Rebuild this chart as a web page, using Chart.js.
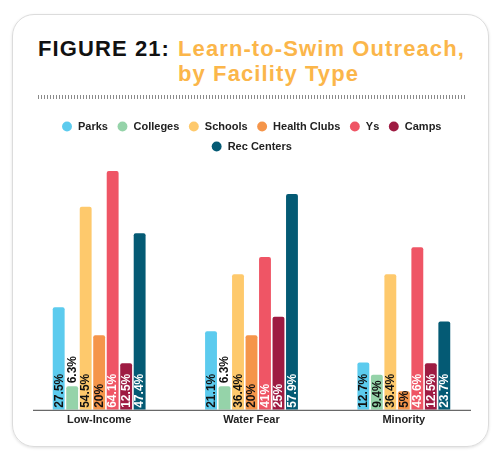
<!DOCTYPE html>
<html>
<head>
<meta charset="utf-8">
<script src="https://cdn.jsdelivr.net/npm/chart.js@4/dist/chart.umd.min.js"></script>
<style>
  html, body { margin: 0; padding: 0; background: #fff; }
  body { width: 500px; height: 456px; position: relative; overflow: hidden; font-family: "Liberation Sans", Arial, sans-serif; }
  .card {
    position: absolute; left: 12px; top: 14px; width: 475px; height: 431px;
    border: 1px solid #dcdcdc; border-radius: 22px; box-shadow: 0 1px 3px rgba(0,0,0,0.12);
  }
  .title { position: absolute; left: 38px; top: 36px; font-weight: bold; font-size: 22px; line-height: 25px; white-space: nowrap; letter-spacing: 1.1px; }
  .title .fig { color: #111; display: inline-block; vertical-align: top; }
  .title .sub { color: #fbb64a; display: inline-block; vertical-align: top; margin-left: 8px; }
  .rule {
    position: absolute; left: 38px; top: 95px; width: 428px; height: 4px;
    background: repeating-linear-gradient(90deg, #8a8a8a 0 1px, transparent 1px 3px);
  }
  canvas { position: absolute; left: 0; top: 0; }
</style>
</head>
<body>
<div class="card"></div>
<div class="title"><span class="fig">FIGURE 21:</span><span class="sub">Learn-to-Swim Outreach,<br>by Facility Type</span></div>
<div class="rule"></div>
<canvas id="chart" width="500" height="456"></canvas>
<script>
    const categories = ['Low-Income', 'Water Fear', 'Minority'];
    const facilities = ['Parks', 'Colleges', 'Schools', 'Health Clubs', 'Ys', 'Camps', 'Rec Centers'];
    const colors = ['#5ccbee', '#95d3a9', '#fec96c', '#f5954a', '#ef5565', '#9e1b42', '#045a74'];
    const labelColors = ['#111', '#111', '#111', '#111', '#fff', '#fff', '#fff'];

    const parks = [27.5, 21.1, 12.7];
    const colleges = [6.3, 6.3, 9.4];
    const schools = [54.5, 36.4, 36.4];
    const healthClubs = [20, 20, 5];
    const ys = [64.1, 41, 43.6];
    const camps = [12.5, 25, 12.5];
    const recCenters = [47.4, 57.9, 23.7];
    const seriesValues = [parks, colleges, schools, healthClubs, ys, camps, recCenters];

    // value labels written upright inside the bars
    const barLabels = {
      id: 'barLabels',
      afterDatasetsDraw(chart) {
        const ctx = chart.ctx;
        ctx.save();
        ctx.font = 'bold 12px "Liberation Sans", Arial, sans-serif';
        ctx.textBaseline = 'middle';
        ctx.textAlign = 'left';
        chart.data.datasets.forEach((ds, i) => {
          chart.getDatasetMeta(i).data.forEach((bar, j) => {
            const text = ds.data[j] + '%';
            const w = ctx.measureText(text).width;
            const h = bar.base - bar.y;
            let start = bar.base - 2;
            let color = labelColors[i];
            if (w > h) {
              // too short, put it on top
              start = bar.y - 3;
              color = '#111';
            }
            ctx.save();
            ctx.translate(bar.x + 0.5, start);
            ctx.rotate(-Math.PI / 2);
            ctx.fillStyle = color;
            ctx.fillText(text, 0, 0);
            ctx.restore();
          });
        });
        ctx.restore();
      }
    };

    // baseline under the groups
    const baseLine = {
      id: 'baseLine',
      afterDatasetsDraw(chart) {
        const ctx = chart.ctx;
        const y = chart.chartArea.bottom + 0.5;
        ctx.save();
        ctx.strokeStyle = '#444';
        ctx.lineWidth = 1;
        ctx.beginPath();
        ctx.moveTo(33, y);
        ctx.lineTo(471, y);
        ctx.stroke();
        ctx.restore();
      }
    };

    const chart = new Chart(document.getElementById('chart'), {
      type: 'bar',
      data: {
        labels: categories,
        datasets: facilities.map((name, i) => ({
          label: name,
          data: seriesValues[i],
          backgroundColor: colors[i],
          borderRadius: 2,
          categoryPercentage: 0.62,
          barPercentage: 0.88
        }))
      },
      options: {
        responsive: false,
        animation: false,
        layout: { padding: { left: 23, right: 20, top: 112, bottom: 25 } },
        plugins: {
          legend: {
            labels: {
              usePointStyle: true,
              pointStyle: 'circle',
              boxWidth: 11,
              boxHeight: 7,
              padding: 9,
              color: '#222',
              font: { family: '"Liberation Sans", Arial, sans-serif', size: 11, weight: 'bold' }
            }
          },
          tooltip: { enabled: false }
        },
        scales: {
          x: {
            grid: { display: false, drawTicks: false },
            border: { display: false },
            ticks: {
              color: '#222',
              padding: 4,
              font: { family: '"Liberation Sans", Arial, sans-serif', size: 11, weight: 'bold' }
            }
          },
          y: {
            display: false,
            min: 0,
            max: 66.5
          }
        }
      },
      plugins: [barLabels, baseLine]
    });
</script>
</body>
</html>
